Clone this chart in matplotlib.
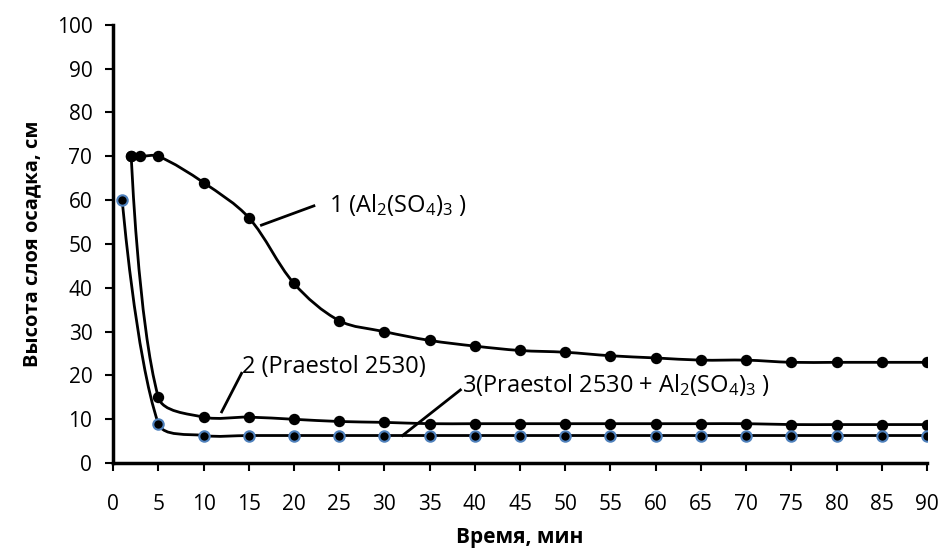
import numpy as np
import matplotlib
matplotlib.use('Agg')
import matplotlib.pyplot as plt
from matplotlib.path import Path
from matplotlib.patches import PathPatch

plt.rcParams['font.family'] = ['Open Sans', 'DejaVu Sans']
plt.rcParams['mathtext.default'] = 'regular'

# series 1 (Al2(SO4)3)
x1 = [2, 3, 5, 10, 15, 20, 25, 30, 35, 40, 45, 50, 55, 60, 65, 70, 75, 80, 85, 90]
y1 = [70, 70, 70, 64, 56, 41, 32.5, 30, 28, 26.7, 25.7, 25.3, 24.5, 24, 23.5, 23.5, 23, 23, 23, 23]
# series 2 (Praestol 2530)
x2 = [2, 5, 10, 15, 20, 25, 30, 35, 40, 45, 50, 55, 60, 65, 70, 75, 80, 85, 90]
y2 = [70, 15, 10.5, 10.5, 10, 9.5, 9.3, 9, 9, 9, 9, 9, 9, 9, 9, 8.8, 8.8, 8.8, 8.8]
# series 3 (Praestol 2530 + Al2(SO4)3)
x3 = [1, 5, 10, 15, 20, 25, 30, 35, 40, 45, 50, 55, 60, 65, 70, 75, 80, 85, 90]
y3 = [60, 9, 6.3, 6.3, 6.3, 6.3, 6.3, 6.3, 6.3, 6.3, 6.3, 6.3, 6.3, 6.3, 6.3, 6.3, 6.3, 6.3, 6.3]

xticks = list(range(0, 91, 5))
yticks = list(range(0, 101, 10))


def smooth_path(ax, xs, ys):
    # bezier through the points (done in pixel space, like excel smoothed line)
    p = ax.transData.transform(np.column_stack([xs, ys]))
    n = len(p)
    verts = [p[0]]
    codes = [Path.MOVETO]
    for i in range(n - 1):
        p0 = p[i - 1] if i > 0 else p[i]
        p3 = p[i + 2] if i + 2 < n else p[i + 1]
        seg = np.hypot(*(p[i + 1] - p[i]))
        l0 = np.hypot(*(p[i] - p0))
        l3 = np.hypot(*(p3 - p[i + 1]))
        k1 = seg / (seg + l0) / 3 if l0 > 0 else 0
        k2 = seg / (seg + l3) / 3 if l3 > 0 else 0
        c1 = p[i] + (p[i + 1] - p0) * k1
        c2 = p[i + 1] - (p3 - p[i]) * k2
        verts += [c1, c2, p[i + 1]]
        codes += [Path.CURVE4] * 3
    verts = ax.transData.inverted().transform(np.array(verts))
    return Path(verts, codes)


fig = plt.figure(figsize=(9.43, 5.52), dpi=100)
ax = fig.add_axes([0.120, 0.161, 0.863, 0.794])
ax.set_xlim(0, 90)
ax.set_ylim(0, 100)

for xs, ys in [(x1, y1), (x2, y2), (x3, y3)]:
    ax.add_patch(PathPatch(smooth_path(ax, xs, ys), fill=False, lw=2, color='black', zorder=2))

ax.plot(x1, y1, 'o', color='black', ms=7.2, zorder=3)
ax.plot(x2, y2, 'o', color='black', ms=7.2, zorder=3)
ax.plot(x3, y3, 'o', mfc='black', mec='#4F81BD', mew=1.5, ms=7.5, zorder=3)

ax.set_xticks(xticks)
ax.set_yticks(yticks)
ax.spines['top'].set_visible(False)
ax.spines['right'].set_visible(False)
ax.spines['left'].set_linewidth(2.5)
ax.spines['bottom'].set_linewidth(2.5)
ax.tick_params(width=1.5, length=6, labelsize=15)
ax.tick_params(axis='x', pad=16)
ax.tick_params(axis='y', pad=9)
ax.set_xlabel('Время, мин', fontsize=15, fontweight='bold', labelpad=9)
ax.set_ylabel('Высота слоя осадка, см', fontsize=14.5, fontweight='bold', labelpad=10)

# leader lines and labels
ax.plot([16.4, 22.2], [54.3, 58.7], color='black', lw=2)
ax.text(23.9, 58.9, '1 (Al$_2$(SO$_4$)$_3$ )', fontsize=17, va='center')
ax.plot([12.0, 14.2], [11.7, 20.5], color='black', lw=2)
ax.text(14.2, 22.0, '2 (Praestol 2530)', fontsize=17, va='center')
ax.plot([32.0, 38.4], [6.3, 16.7], color='black', lw=2)
ax.text(38.6, 17.8, '3(Praestol 2530 + Al$_2$(SO$_4$)$_3$ )', fontsize=17, va='center')

fig.savefig('out.png', dpi=100)
